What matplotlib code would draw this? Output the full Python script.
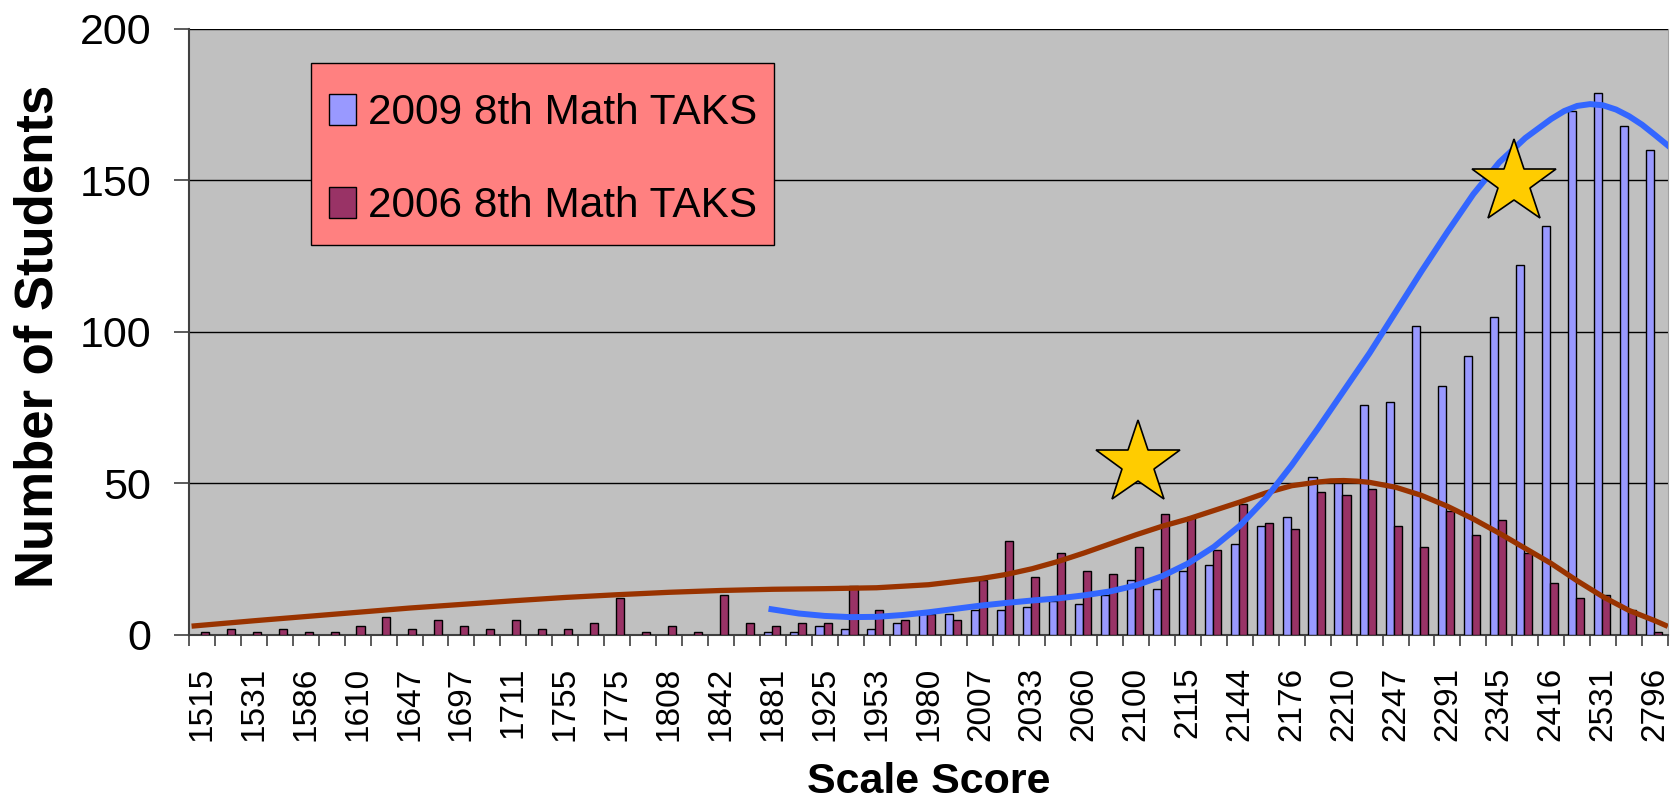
"""
Scale Score distribution chart
2009 vs 2006 8th grade Math TAKS
"""
import matplotlib
matplotlib.use('Agg')
import matplotlib.pyplot as plt
from matplotlib.patches import Rectangle
from matplotlib.ticker import FixedLocator
import numpy as np

# 폰트 설정
plt.rcParams['font.family'] = ['Liberation Sans', 'DejaVu Sans']

# 데이터 (57 scale score categories, every other one labelled)
tick_labels = ['1515', '1531', '1586', '1610', '1647', '1697', '1711', '1755',
               '1775', '1808', '1842', '1881', '1925', '1953', '1980', '2007',
               '2033', '2060', '2100', '2115', '2144', '2176', '2210', '2247',
               '2291', '2345', '2416', '2531', '2796']

# 2009: no students below category 22
counts_2009 = [np.nan] * 22 + [
    1, 1, 3, 2, 2, 4, 7, 7, 8, 8,
    9, 11, 10, 13, 18, 15, 21, 23, 30, 36,
    39, 52, 50, 76, 77, 102, 82, 92, 105, 122,
    135, 173, 179, 168, 160]

counts_2006 = [
    1, 2, 1, 2, 1, 1, 3, 6, 2, 5,
    3, 2, 5, 2, 2, 4, 12, 1, 3, 1,
    13, 4, 3, 4, 4, 16, 8, 5, 7, 5,
    18, 31, 19, 27, 21, 20, 29, 40, 39, 28,
    43, 37, 35, 47, 46, 48, 36, 29, 41, 33,
    38, 27, 17, 12, 13, 8, 1]

# hand-drawn smooth curves (x in category units)
trend_2006_x = [-0.3, 2, 4, 6, 8, 10, 12, 14, 16, 18, 20, 22, 24, 26, 28,
                30, 31, 32, 33, 34, 35, 36, 37, 38, 39, 40, 41, 42, 43,
                43.5, 44, 44.5, 45, 46, 47, 48, 49, 50, 51, 52, 53, 54, 55,
                56, 56.4]
trend_2006_y = [2.9, 4.6, 6.0, 7.4, 8.8, 10.0, 11.2, 12.3, 13.2, 14.0, 14.6,
                15.0, 15.2, 15.5, 16.5, 18.5, 19.9, 21.8, 24.2, 27.0, 30.0,
                33.0, 35.8, 38.2, 41.0, 43.8, 46.8, 49.2, 50.4, 50.8, 50.9,
                50.7, 50.3, 48.7, 46.0, 42.4, 38.2, 33.5, 28.5, 23.5, 17.8,
                12.5, 8.0, 4.6, 3.1]

trend_2009_x = [21.95, 23, 24, 25, 26, 27, 28, 29, 30, 31, 32, 33, 34, 35,
                36, 37, 38, 39, 40, 41, 42, 43, 44, 45, 46, 47, 48, 49, 50,
                51, 52, 52.5, 53, 53.5, 54, 54.5, 55, 55.5, 56, 56.5]
trend_2009_y = [8.4, 7.0, 6.2, 5.8, 5.9, 6.5, 7.4, 8.5, 9.6, 10.5, 11.3,
                12.0, 13.0, 14.3, 16.3, 19.3, 23.5, 29.0, 36.0, 45.0, 56.0,
                68.0, 80.5, 93.0, 106.5, 120.0, 133.0, 145.5, 156.0, 164.0,
                170.3, 172.9, 174.6, 175.2, 174.8, 173.4, 171.2, 168.4, 165.0,
                161.5]

# star markers (x in category units, y in students)
star_x = [36.06, 50.55]
star_y = [56.2, 149.2]

colors = {
    '2009': '#9999FF',
    '2006': '#993366',
    'trend_2009': '#3366FF',
    'trend_2006': '#993300',
    'plot_bg': '#C0C0C0',
    'legend_bg': '#FF8080',
    'star': '#FFCC00',
}

W, H = 1680, 809
cats = np.arange(len(counts_2006))
y09 = np.array(counts_2009, dtype=float)
y06 = np.array(counts_2006, dtype=float)
has09 = ~np.isnan(y09)

fig = plt.figure(figsize=(W / 100, H / 100), dpi=100)
ax = fig.add_axes([189 / W, 1 - 634.7 / H, 1479 / W, 605.7 / H])
ax.set_facecolor(colors['plot_bg'])

# 막대
bw = 0.31
b09 = ax.bar(cats[has09] - 0.20, y09[has09], width=bw,
             color=colors['2009'], edgecolor='black', linewidth=1.0,
             label='2009 8th Math TAKS', zorder=3)
b06 = ax.bar(cats + 0.11, y06, width=bw, color=colors['2006'],
             edgecolor='black', linewidth=1.0, label='2006 8th Math TAKS',
             zorder=3)

# 곡선
ax.plot(trend_2006_x, trend_2006_y, color=colors['trend_2006'],
        linewidth=3.8, zorder=4, solid_joinstyle='round')
ax.plot(trend_2009_x, trend_2009_y, color=colors['trend_2009'],
        linewidth=4.3, zorder=4, solid_joinstyle='round')

# 별
ax.plot(star_x, star_y, linestyle='none', marker='*', markersize=63,
        markerfacecolor=colors['star'], markeredgecolor='black',
        markeredgewidth=1.2, zorder=5, clip_on=False)

# 축
ax.set_xlim(-0.5, len(cats) - 0.5)
ax.set_ylim(0, 200)
ax.set_yticks([0, 50, 100, 150, 200])
ax.yaxis.grid(True, color='black', linewidth=1.0, zorder=1)
ax.set_axisbelow(True)
ax.tick_params(axis='y', direction='out', length=11, width=1.2,
               color='#404040', pad=16, labelsize=31)

ax.set_xticks(cats[::2])
ax.set_xticklabels(tick_labels, rotation=90, fontsize=24)
ax.xaxis.set_minor_locator(FixedLocator(np.arange(len(cats) + 1) - 0.5))
ax.tick_params(axis='x', which='major', length=0, pad=23)
ax.tick_params(axis='x', which='minor', direction='out', length=8,
               width=1.2, color='#404040')

ax.spines['top'].set_visible(False)
ax.spines['right'].set_color('#A0A0A0')
ax.spines['left'].set_color('#404040')
ax.spines['bottom'].set_color('#404040')
ax.spines['left'].set_linewidth(1.5)
ax.spines['bottom'].set_linewidth(1.5)

fig.text(38.5 / W, 1 - 336 / H, 'Number of Students', rotation=90,
         ha='center', va='center', fontsize=38, fontweight='bold')
fig.text(928.5 / W, 1 - 782 / H, 'Scale Score', ha='center',
         va='center', fontsize=31, fontweight='bold')

# 범례 (상자는 따로 그림)
ax.add_patch(Rectangle((311 / W, 1 - 245 / H), 463 / W, 182 / H,
                       transform=fig.transFigure, facecolor=colors['legend_bg'],
                       edgecolor='black', linewidth=1.0, zorder=5.5,
                       clip_on=False))
leg = ax.legend(handles=[b09, b06], loc='upper left',
                bbox_to_anchor=(329 / W, 1 - 93 / H),
                bbox_transform=fig.transFigure, borderaxespad=0,
                fontsize=30.5, handlelength=0.63, handleheight=0.75,
                handletextpad=0.28, labelspacing=1.26, borderpad=0,
                frameon=False)
leg.set_zorder(6)

plt.savefig('out.png', dpi=100)
